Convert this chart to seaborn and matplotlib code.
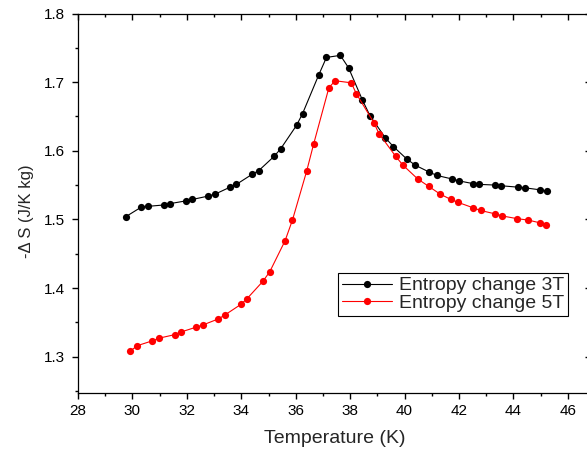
import matplotlib
matplotlib.use("Agg")
import matplotlib.pyplot as plt
from matplotlib.ticker import MultipleLocator
import seaborn as sns
import pandas as pd

temp_3t = [29.76, 30.33, 30.57, 31.16, 31.39, 31.97, 32.20, 32.79, 33.05, 33.59,
           33.82, 34.41, 34.64, 35.21, 35.45, 36.03, 36.25, 36.84, 37.13, 37.64,
           37.94, 38.45, 38.73, 39.29, 39.59, 40.08, 40.39, 40.90, 41.19, 41.73,
           42.01, 42.53, 42.75, 43.33, 43.55, 44.15, 44.42, 44.99, 45.23]
ds_3t = [1.504, 1.518, 1.519, 1.521, 1.523, 1.527, 1.529, 1.534, 1.537, 1.547,
         1.551, 1.566, 1.571, 1.592, 1.603, 1.637, 1.654, 1.710, 1.736, 1.739,
         1.721, 1.674, 1.651, 1.619, 1.606, 1.588, 1.579, 1.569, 1.564, 1.559,
         1.556, 1.552, 1.551, 1.550, 1.549, 1.547, 1.546, 1.543, 1.541]

temp_5t = [29.92, 30.18, 30.73, 30.99, 31.55, 31.79, 32.35, 32.58, 33.16, 33.41,
           33.98, 34.20, 34.80, 35.05, 35.61, 35.88, 36.40, 36.66, 37.22, 37.45,
           38.04, 38.23, 38.87, 39.06, 39.67, 39.94, 40.48, 40.89, 41.30, 41.70,
           41.95, 42.51, 42.79, 43.33, 43.59, 44.14, 44.54, 44.97, 45.20]
ds_5t = [1.308, 1.316, 1.323, 1.327, 1.332, 1.336, 1.343, 1.346, 1.355, 1.361,
         1.376, 1.384, 1.410, 1.424, 1.469, 1.499, 1.570, 1.610, 1.692, 1.702,
         1.699, 1.683, 1.641, 1.625, 1.592, 1.579, 1.559, 1.548, 1.537, 1.529,
         1.525, 1.517, 1.513, 1.508, 1.505, 1.501, 1.499, 1.495, 1.492]

labels = ["Entropy change 3T", "Entropy change 5T"]
colors = ["black", "red"]

sns.set_style("ticks")
plt.rcParams["font.family"] = ["Liberation Sans", "DejaVu Sans"]

W, H = 587, 454
fig = plt.figure(figsize=(W / 100, H / 100), dpi=100)
left, right, top, bottom = 78, 591, 13.5, 393
rect = [left / W, 1 - bottom / H, (right - left) / W, (bottom - top) / H]
ax = fig.add_axes(rect)

df = pd.concat([
    pd.DataFrame({"T": temp_3t, "S": ds_3t, "series": labels[0]}),
    pd.DataFrame({"T": temp_5t, "S": ds_5t, "series": labels[1]}),
])
sns.lineplot(data=df, x="T", y="S", hue="series", palette=colors,
             marker="o", markersize=5.2, markeredgewidth=0, linewidth=0.8,
             estimator=None, sort=False, ax=ax)

xlim = (28, 46.85)
ylim = (1.247, 1.8)
ax.set_xlim(*xlim)
ax.set_ylim(*ylim)
ax.xaxis.set_major_locator(MultipleLocator(2))
ax.xaxis.set_minor_locator(MultipleLocator(1))
ax.yaxis.set_major_locator(MultipleLocator(0.1))
ax.yaxis.set_minor_locator(MultipleLocator(0.05))
ax.tick_params(which="both", bottom=True, left=True, top=False, right=False,
               direction="out", color="black", width=1.0)
ax.tick_params(which="major", length=4.5, labelsize=11, labelcolor="black")
ax.tick_params(which="minor", length=2.5)
ax.tick_params(axis="y", which="major", pad=5)
ax.tick_params(axis="x", which="major", pad=3.5)
for s in ax.spines.values():
    s.set_visible(True)
    s.set_color("black")
    s.set_linewidth(0.9)

# inward ticks on top and right (mirror axes)
ax2 = fig.add_axes(rect, facecolor="none")
ax2.set_xlim(*xlim)
ax2.set_ylim(*ylim)
ax2.xaxis.set_major_locator(MultipleLocator(2))
ax2.xaxis.set_minor_locator(MultipleLocator(1))
ax2.yaxis.set_major_locator(MultipleLocator(0.1))
ax2.yaxis.set_minor_locator(MultipleLocator(0.05))
ax2.xaxis.tick_top()
ax2.yaxis.tick_right()
ax2.tick_params(which="both", direction="in", color="black", width=1.0,
                labeltop=False, labelright=False, labelbottom=False, labelleft=False,
                top=True, right=True, bottom=False, left=False)
ax2.tick_params(which="major", length=4.5)
ax2.tick_params(which="minor", length=2.5)
for s in ax2.spines.values():
    s.set_visible(False)

ax.set_xlabel("Temperature (K)", fontsize=14)
ax.set_ylabel("-\u0394 S (J/K kg)", fontsize=12)
ax.xaxis.set_label_coords(0.5, -0.097)
ax.yaxis.set_label_coords(-0.086, 0.478)

handles, _ = ax.get_legend_handles_labels()
leg = ax.legend(handles=handles, labels=labels, loc="upper left",
                bbox_to_anchor=(338 / W, 1 - 273 / H), bbox_transform=fig.transFigure,
                borderaxespad=0, fontsize=14, frameon=True, fancybox=False,
                edgecolor="black", framealpha=1, handlelength=2.6,
                handletextpad=0.35, borderpad=0.2, labelspacing=0.0)
leg.get_frame().set_linewidth(0.8)

fig.savefig("out.png", dpi=100)
